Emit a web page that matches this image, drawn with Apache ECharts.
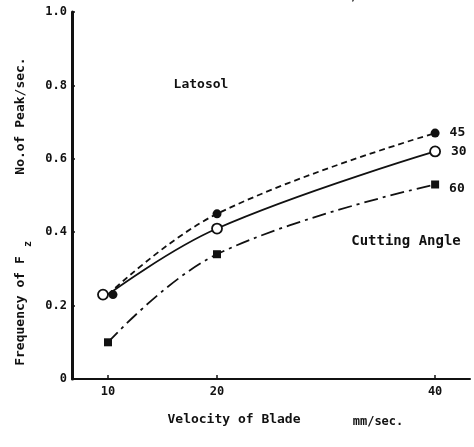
<!DOCTYPE html>
<html>
<head>
<meta charset="utf-8">
<script src="https://cdn.jsdelivr.net/npm/echarts@6/dist/echarts.min.js"></script>
<style>
  html, body { margin: 0; padding: 0; background: #fff; }
  #chart { width: 474px; height: 447px; }
</style>
</head>
<body>
<div id="chart"></div>
<script>
// Blade velocity (mm/sec.)
const velocities = [10, 20, 40];
// Frequency of Fz peaks (No. of peak/sec.) per cutting angle
const angle45 = [0.23, 0.45, 0.67];
const angle30 = [0.23, 0.41, 0.62];
const angle60 = [0.10, 0.34, 0.53];
const angleNames = ['45', '30', '60'];
const xTickValues = [10, 20, 40];
const yTickValues = [0, 0.2, 0.4, 0.6, 0.8, 1.0];

const INK = '#111';
const FONT = 'bold 13px "DejaVu Sans Mono", "Liberation Mono", monospace';
const FAMILY = '"DejaVu Sans Mono", "Liberation Mono", monospace';

// build [x, y] pairs; the last point carries the angle label,
// the first point may be nudged sideways so coincident markers stay visible
function buildData(values, name, firstOffset, labelOffset) {
  return values.map(function (v, i) {
    const item = { value: [velocities[i], v] };
    if (i === 0 && firstOffset) item.symbolOffset = firstOffset;
    if (i === values.length - 1) {
      item.label = {
        show: true,
        position: 'right',
        distance: 10,
        formatter: name,
        color: INK,
        fontFamily: FAMILY,
        fontWeight: 'bold',
        fontSize: 13,
        offset: labelOffset || [0, 0]
      };
    }
    return item;
  });
}

const chart = echarts.init(document.getElementById('chart'), null, { renderer: 'canvas' });

chart.setOption({
  animation: false,
  backgroundColor: '#fff',
  grid: { left: 72, right: 4, top: 12, bottom: 68, containLabel: false },
  xAxis: {
    type: 'value',
    min: 6.7,
    max: 43.2,
    axisLine: { show: true, lineStyle: { color: INK, width: 2 } },
    axisTick: { show: true, inside: true, length: 4, customValues: xTickValues, lineStyle: { color: INK, width: 1.5 } },
    axisLabel: { customValues: xTickValues, margin: 7, color: INK, fontFamily: FAMILY, fontWeight: 'bold', fontSize: 12 },
    splitLine: { show: false }
  },
  yAxis: {
    type: 'value',
    min: 0,
    max: 1,
    interval: 0.2,
    axisLine: { show: true, lineStyle: { color: INK, width: 3 } },
    axisTick: { show: true, inside: true, length: 3, lineStyle: { color: INK, width: 1.5 } },
    axisLabel: {
      margin: 5,
      color: INK,
      fontFamily: FAMILY,
      fontWeight: 'bold',
      fontSize: 12,
      formatter: function (v) { return v === 0 ? '0' : v.toFixed(1); }
    },
    splitLine: { show: false }
  },
  series: [
    {
      name: angleNames[0],
      type: 'line',
      smooth: 0.4,
      data: buildData(angle45, angleNames[0], [5, 0]),
      symbol: 'circle',
      symbolSize: 9,
      itemStyle: { color: INK },
      lineStyle: { color: INK, width: 1.8, type: [6, 4] },
      z: 3
    },
    {
      name: angleNames[1],
      type: 'line',
      smooth: 0.4,
      data: buildData(angle30, angleNames[1], [-5, 0]),
      symbol: 'circle',
      symbolSize: 10,
      itemStyle: { color: '#fff', borderColor: INK, borderWidth: 1.8 },
      lineStyle: { color: INK, width: 1.8, type: 'solid' },
      z: 2
    },
    {
      name: angleNames[2],
      type: 'line',
      smooth: 0.4,
      data: buildData(angle60, angleNames[2], null, [0, 4]),
      symbol: 'rect',
      symbolSize: 8,
      itemStyle: { color: INK },
      lineStyle: { color: INK, width: 1.8, type: [14, 5, 3, 5] },
      z: 2
    }
  ],
  graphic: [
    { type: 'text', x: 201, y: 85, style: { text: 'Latosol', font: FONT, fill: INK, textAlign: 'center', textVerticalAlign: 'middle' } },
    { type: 'text', x: 406, y: 241, style: { text: 'Cutting Angle', font: 'bold 14px ' + FAMILY, fill: INK, textAlign: 'center', textVerticalAlign: 'middle' } },
    { type: 'text', x: 234, y: 420, style: { text: 'Velocity of Blade', font: FONT, fill: INK, textAlign: 'center', textVerticalAlign: 'middle' } },
    { type: 'text', x: 378, y: 422, style: { text: 'mm/sec.', font: 'bold 12px ' + FAMILY, fill: INK, textAlign: 'center', textVerticalAlign: 'middle' } },
    { type: 'text', x: 362, y: -3, style: { text: 'mm/sec.', font: 'bold 12px ' + FAMILY, fill: INK, textAlign: 'center', textVerticalAlign: 'middle' } },
    { type: 'text', x: 21, y: 116, rotation: Math.PI / 2, style: { text: 'No.of Peak/sec.', font: FONT, fill: INK, textAlign: 'center', textVerticalAlign: 'middle' } },
    { type: 'text', x: 21, y: 311, rotation: Math.PI / 2, style: { text: 'Frequency of F', font: FONT, fill: INK, textAlign: 'center', textVerticalAlign: 'middle' } },
    { type: 'text', x: 28, y: 244, rotation: Math.PI / 2, style: { text: 'z', font: 'bold 10px ' + FAMILY, fill: INK, textAlign: 'center', textVerticalAlign: 'middle' } }
  ]
});
</script>
</body>
</html>
